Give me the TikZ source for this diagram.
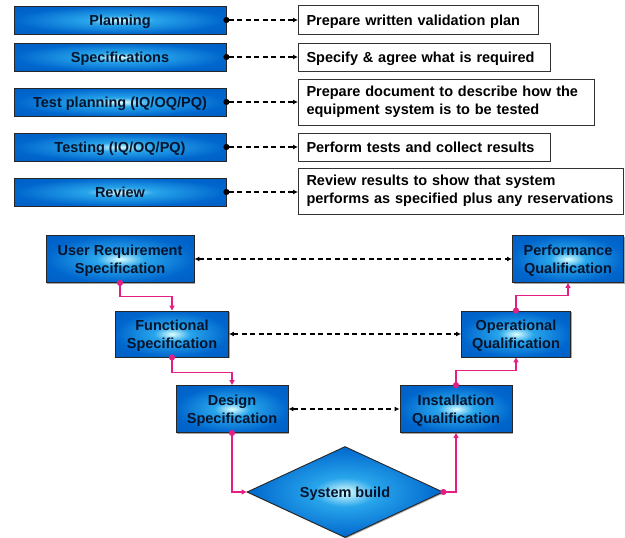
\documentclass[tikz,border=0pt]{standalone}
\usepackage{fontspec}
\setmainfont{Liberation Sans}
\usetikzlibrary{arrows.meta,shapes.geometric,shadows}
\definecolor{outb}{RGB}{0,102,205}
\definecolor{edgeb}{RGB}{0,85,185}
\definecolor{midb}{RGB}{40,165,235}
\definecolor{glowc}{RGB}{220,255,255}
\definecolor{txt}{RGB}{5,20,45}
\definecolor{pinkc}{RGB}{228,30,130}
\pgfdeclareradialshading{glow}{\pgfpoint{0bp}{0bp}}{color(0bp)=(glowc); color(8bp)=(midb); color(25bp)=(outb); color(50bp)=(edgeb)}
\tikzset{
  vbox/.style={draw=black!85, line width=0.9pt, shading=glow, text=txt, align=center, inner sep=0pt,
    text depth=0pt, font=\fontsize{14.5}{17.5}\selectfont\bfseries,
    general shadow={fill=black!35, shadow xshift=1.1pt, shadow yshift=-1.1pt}},
  lbox/.style={vbox, minimum width=212pt, minimum height=28pt},
  rbox/.style={draw=black!80, line width=1pt, fill=white, anchor=west, inner xsep=8pt, inner ysep=0pt,
    align=left, text=black, font=\fontsize{14.5}{18.5}\selectfont\bfseries},
  rboxone/.style={rbox, text depth=0pt},
  topconn/.style={black, line width=1.5pt, dash pattern=on 5pt off 3.5pt,
    {Circle[length=6pt]}-{Latex[length=5pt,width=5pt]}, shorten <=-3pt},
  dbl/.style={black, line width=1.5pt, dash pattern=on 5pt off 3.5pt,
    {Latex[length=5pt,width=5pt]}-{Latex[length=5pt,width=5pt]}},
  pk/.style={pinkc, line width=1.6pt, {Circle[length=6pt]}-{Triangle[length=5pt,width=5pt]}, shorten <=-3pt}
}
\begin{document}
\begin{tikzpicture}[x=1pt,y=-1pt]
\useasboundingbox (0,0) rectangle (625,538);
% top left phase boxes
\node[lbox] (p1) at (120,20) {Planning};
\node[lbox] (p2) at (120,57) {Specifications};
\node[lbox] (p3) at (120,102) {Test planning (IQ/OQ/PQ)};
\node[lbox] (p4) at (120,147) {Testing (IQ/OQ/PQ)};
\node[lbox] (p5) at (120,192) {Review};
% descriptions
\node[rboxone, text width=224pt, minimum height=29pt] (d1) at (298,20) {Prepare written validation plan};
\node[rboxone, text width=236pt, minimum height=28pt] (d2) at (298,57) {Specify \& agree what is required};
\node[rbox, text width=280pt, minimum height=46pt] (d3) at (298,102) {Prepare document to describe how the\\equipment system is to be tested};
\node[rboxone, text width=236pt, minimum height=28pt] (d4) at (298,147) {Perform tests and collect results};
\node[rbox, text width=309pt, minimum height=46pt] (d5) at (298,191) {Review results to show that system\\performs as specified plus any reservations};
\draw[topconn] (p1.east) -- (d1.west);
\draw[topconn] (p2.east) -- (d2.west);
\draw[topconn] (p3.east) -- (d3.west);
\draw[topconn] (p4.east) -- (d4.west);
\draw[topconn] (p5.east) -- (d5.west |- p5.east);
% V model
\node[vbox, minimum width=148pt, minimum height=47pt] (urs) at (120,259) {User Requirement\\Specification};
\node[vbox, minimum width=113pt, minimum height=46pt] (fs) at (172,334) {Functional\\Specification};
\node[vbox, minimum width=112pt, minimum height=47pt] (ds) at (232,409) {Design\\Specification};
\node[vbox, minimum width=112pt, minimum height=47pt] (iq) at (456,409) {Installation\\Qualification};
\node[vbox, minimum width=109pt, minimum height=46pt] (oq) at (516,334) {Operational\\Qualification};
\node[vbox, minimum width=111pt, minimum height=47pt] (pq) at (568,259) {Performance\\Qualification};
\node[vbox, diamond, aspect=2.15, minimum width=196pt, minimum height=91pt] (sb) at (345,492) {System build};
% horizontal dashed links
\draw[dbl] (urs.east) -- (pq.west);
\draw[dbl] (fs.east) -- (oq.west);
\draw[dbl] (ds.east) -- (iq.west);
% pink flow
\draw[pk] (urs.south) -- ++(0,13.5) -| (fs.north);
\draw[pk] (fs.south) -- ++(0,15) -| (ds.north);
\draw[pk] (ds.south) |- (sb.west);
\draw[pk] (sb.east) -| (iq.south);
\draw[pk] (iq.north) -- ++(0,-14.5) -| (oq.south);
\draw[pk] (oq.north) -- ++(0,-15) -| (pq.south);
\end{tikzpicture}
\end{document}
